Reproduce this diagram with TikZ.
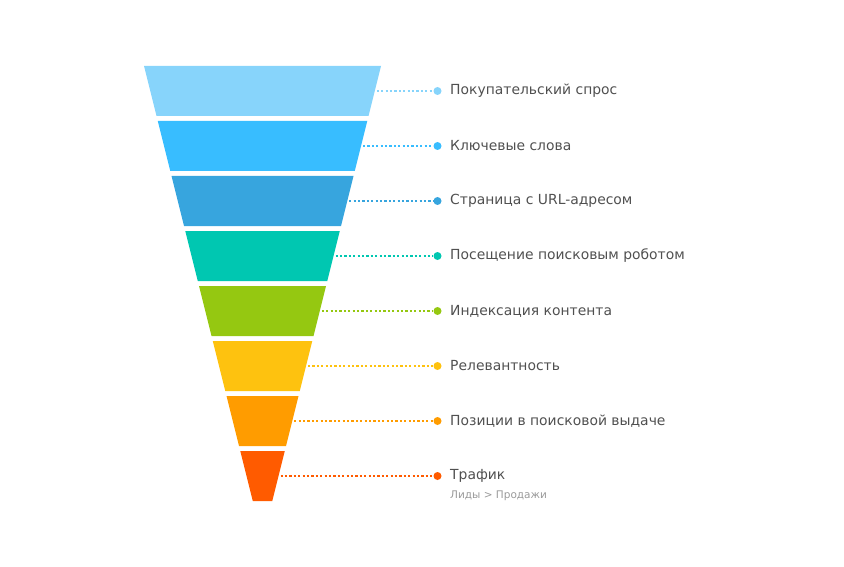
\documentclass[tikz,border=0pt]{standalone}
\usepackage{fontspec}
\setmainfont{DejaVu Sans}
\definecolor{c1}{HTML}{87D4FB}
\definecolor{c2}{HTML}{38BDFF}
\definecolor{c3}{HTML}{37A5DE}
\definecolor{c4}{HTML}{00C7B1}
\definecolor{c5}{HTML}{95C811}
\definecolor{c6}{HTML}{FEC20F}
\definecolor{c7}{HTML}{FF9C00}
\definecolor{c8}{HTML}{FF5B00}
\definecolor{txt}{HTML}{505050}
\definecolor{subtxt}{HTML}{999999}
\tikzset{
  leader/.style={line width=2.2pt, dash pattern=on 2.2pt off 2.2pt},
  enddot/.style={circle, inner sep=0pt, minimum size=8pt},
  lbl/.style={anchor=west, inner sep=0pt, text=txt, font=\fontsize{13.9}{16}\selectfont},
  sublbl/.style={anchor=west, inner sep=0pt, text=subtxt, font=\fontsize{10.5}{12}\selectfont}
}
\begin{document}
\begin{tikzpicture}[x=1pt,y=-1pt]
\useasboundingbox (0,0) rectangle (844,567);
\foreach \i/\col/\t in {
  0/c1/Покупательский спрос,
  1/c2/Ключевые слова,
  2/c3/Страница с URL-адресом,
  3/c4/Посещение поисковым роботом,
  4/c5/Индексация контента,
  5/c6/Релевантность,
  6/c7/Позиции в поисковой выдаче,
  7/c8/Трафик}{
  \pgfmathsetmacro{\yt}{66+55*\i}
  \pgfmathsetmacro{\yb}{\yt+50}
  \pgfmathsetmacro{\ym}{\yt+25}
  \pgfmathsetmacro{\lt}{144+0.25*(\yt-66)}
  \pgfmathsetmacro{\lb}{144+0.25*(\yb-66)}
  \pgfmathsetmacro{\rt}{381-0.25*(\yt-66)}
  \pgfmathsetmacro{\rb}{381-0.25*(\yb-66)}
  \pgfmathsetmacro{\rm}{381-0.25*(\ym-66)+2}
  \fill[\col] (\lt,\yt) -- (\rt,\yt) -- (\rb,\yb) -- (\lb,\yb) -- cycle;
  \coordinate (e\i) at (\rm,\ym);
  \node[enddot, fill=\col] (d\i) at (437.5,\ym) {};
  \node[lbl] (t\i) at (450,\ym) {\t};
  \draw[leader, \col] (e\i) -- (d\i);
}
\node[sublbl] (s7) at (450,496) {Лиды > Продажи};
\end{tikzpicture}
\end{document}
